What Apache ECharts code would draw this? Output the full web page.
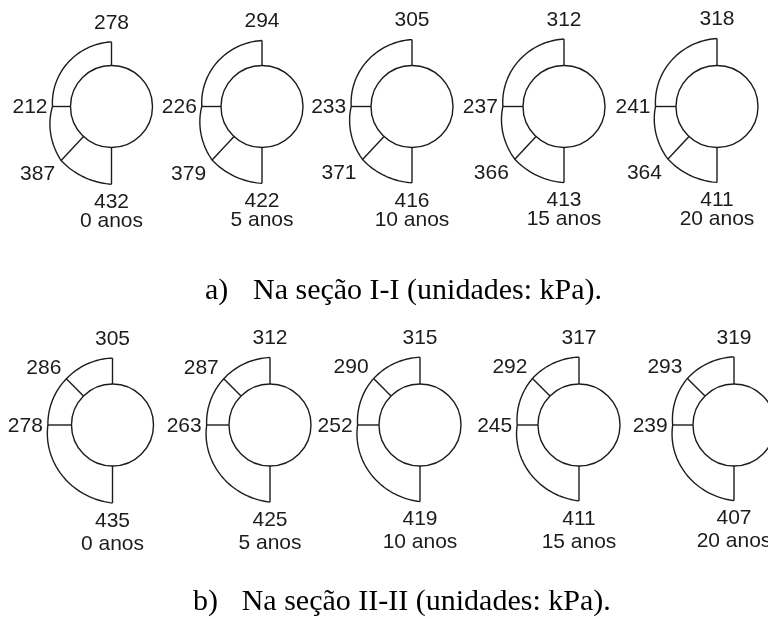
<!DOCTYPE html>
<html><head><meta charset="utf-8">
<script src="https://cdn.jsdelivr.net/npm/echarts@6/dist/echarts.min.js"></script>
<style>html,body{margin:0;padding:0;background:#fff}#c{width:768px;height:619px}</style>
</head><body><div id="c"></div>
<script>
// ---------- data ----------
const years = ['0 anos', '5 anos', '10 anos', '15 anos', '20 anos'];
// Section I-I (kPa): crown 90°, side 180°, lower side ~227°, invert 270°
const secI_angles = [90, 180, 227, 270];
const secI_crown  = [278, 294, 305, 312, 318];
const secI_side   = [212, 226, 233, 237, 241];
const secI_lower  = [387, 379, 371, 366, 364];
const secI_invert = [432, 422, 416, 413, 411];
// Section II-II (kPa): crown 90°, upper side 135°, side 180°, invert 270°
const secII_angles = [90, 135, 180, 270];
const secII_crown  = [305, 312, 315, 317, 319];
const secII_upper  = [286, 287, 290, 292, 293];
const secII_side   = [278, 263, 252, 245, 239];
const secII_invert = [435, 425, 419, 411, 407];
const captionI  = 'Na seção I-I (unidades: kPa).';
const captionII = 'Na seção II-II (unidades: kPa).';

// ---------- layout / style ----------
const rowA = { cy: 106.5, cx: [111.5, 262, 412, 564, 717], yearGap: 19 };
const rowB = { cy: 425,   cx: [112.5, 270, 420, 579, 734], yearGap: 23 };
const R_MIN = -483, R_MAX = 530, POLAR_R = 86;
const INK = '#1c1c1c', LW = 1.4;
const FONT = '"Liberation Sans", Arial, sans-serif';
const FS = 21;
const SERIF = '"Liberation Serif", "Times New Roman", serif';

function labelFor(angle, p) {
  if (angle === 90)  return { x: p[0], y: p[1] - 19, align: 'center' };
  if (angle === 270) return { x: p[0], y: p[1] + 18, align: 'center' };
  if (angle === 180) return { x: p[0] - 5, y: p[1] + 1, align: 'right' };
  if (angle < 180)   return { x: p[0] - 5, y: p[1] - 11, align: 'right' };
  return { x: p[0] - 6, y: p[1] + 14, align: 'right' };
}

function makeRender(points, year, yearGap) {
  return function (params, api) {
    const i = params.dataIndex;
    const v = api.value(0), a = api.value(1);
    const p0 = api.coord([0, a]);
    const p1 = api.coord([v, a]);
    const children = [];
    children.push({ type: 'line', shape: { x1: p0[0], y1: p0[1], x2: p1[0], y2: p1[1] },
      style: { stroke: INK, lineWidth: LW } });
    const lp = labelFor(a, p1);
    children.push({ type: 'text', x: lp.x, y: lp.y,
      style: { text: String(v), align: lp.align, verticalAlign: 'middle', fontSize: FS, fontFamily: FONT, fill: INK } });
    if (a === 270) {
      children.push({ type: 'text', x: p1[0], y: lp.y + yearGap,
        style: { text: year, align: 'center', verticalAlign: 'middle', fontSize: FS, fontFamily: FONT, fill: INK } });
    }
    if (i === 0) {
      const c = api.coord([R_MIN, 0]);
      const e = api.coord([0, 0]);
      children.push({ type: 'circle', shape: { cx: c[0], cy: c[1], r: Math.abs(e[0] - c[0]) },
        style: { fill: 'none', stroke: INK, lineWidth: LW } });
      const pts = [];
      for (let k = 0; k < points.length - 1; k++) {
        const [v0, a0] = points[k], [v1, a1] = points[k + 1];
        const steps = Math.max(2, Math.round(Math.abs(a1 - a0) / 2));
        for (let s = 0; s <= steps; s++) {
          if (k > 0 && s === 0) continue;
          const t = s / steps;
          pts.push(api.coord([v0 + (v1 - v0) * t, a0 + (a1 - a0) * t]));
        }
      }
      children.push({ type: 'polyline', shape: { points: pts },
        style: { fill: 'none', stroke: INK, lineWidth: LW } });
    }
    return { type: 'group', children };
  };
}

const polar = [], angleAxis = [], radiusAxis = [], series = [];
function addSection(row, angles, cols) {
  row.cx.forEach((cx, j) => {
    const idx = polar.length;
    polar.push({ center: [cx, row.cy], radius: POLAR_R });
    angleAxis.push({ polarIndex: idx, type: 'value', min: 0, max: 360, startAngle: 0, clockwise: false, show: false });
    radiusAxis.push({ polarIndex: idx, type: 'value', min: R_MIN, max: R_MAX, show: false });
    const pts = angles.map((ang, k) => [cols[k][j], ang]);
    series.push({ type: 'custom', coordinateSystem: 'polar', polarIndex: idx,
      data: pts, renderItem: makeRender(pts, years[j], row.yearGap), silent: true, animation: false });
  });
}
addSection(rowA, secI_angles, [secI_crown, secI_side, secI_lower, secI_invert]);
addSection(rowB, secII_angles, [secII_crown, secII_upper, secII_side, secII_invert]);

const capStyle = (w) => ({
  fontWeight: 'normal',
  rich: {
    a: { width: w, fontFamily: SERIF, fontSize: 30, fontWeight: 'normal', color: '#000' },
    b: { fontFamily: SERIF, fontSize: 30, fontWeight: 'normal', color: '#000' }
  }
});
const chart = echarts.init(document.getElementById('c'), null, { renderer: 'canvas' });
chart.setOption({
  animation: false,
  backgroundColor: '#fff',
  title: [
    { text: '{a|a)}{b|' + captionI + '}', left: 205, top: 276, padding: 0, textStyle: capStyle(48) },
    { text: '{a|b)}{b|' + captionII + '}', left: 193, top: 587, padding: 0, textStyle: capStyle(48.7) }
  ],
  polar, angleAxis, radiusAxis, series
});
</script></body></html>
